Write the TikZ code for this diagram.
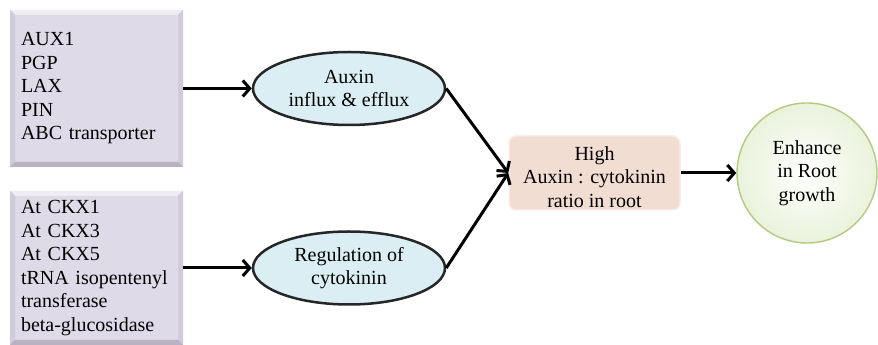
\documentclass[tikz,border=0pt]{standalone}
\usepackage{fontspec}
\setmainfont{Liberation Serif}
\usetikzlibrary{arrows.meta,shapes.geometric}

\definecolor{lavface}{HTML}{DFDAE7}
\definecolor{lavtop}{HTML}{EFECF4}
\definecolor{lavside}{HTML}{D0CADB}
\definecolor{lavbottom}{HTML}{B9B2C4}
\definecolor{auxblue}{HTML}{DAEEF3}
\definecolor{ratiopeach}{HTML}{F2DDD3}
\definecolor{ratiorim}{HTML}{F8EDE8}
\definecolor{rootgreen}{HTML}{B2CB80}
\definecolor{rootglow}{HTML}{EAF2DC}

\tikzset{
  genebox/.style={rectangle, fill=lavface, minimum width=173pt,
    text width=151pt, inner xsep=11pt, align=left,
    path picture={
      \fill[lavtop] (path picture bounding box.north west) -- (path picture bounding box.north east)
        -- ([shift={(-5pt,-5pt)}]path picture bounding box.north east)
        -- ([shift={(5pt,-5pt)}]path picture bounding box.north west) -- cycle;
      \fill[lavside] (path picture bounding box.north west) -- (path picture bounding box.south west)
        -- ([shift={(5pt,5pt)}]path picture bounding box.south west)
        -- ([shift={(5pt,-5pt)}]path picture bounding box.north west) -- cycle;
      \fill[lavside] (path picture bounding box.north east) -- (path picture bounding box.south east)
        -- ([shift={(-5pt,5pt)}]path picture bounding box.south east)
        -- ([shift={(-5pt,-5pt)}]path picture bounding box.north east) -- cycle;
      \fill[lavbottom] (path picture bounding box.south west) -- (path picture bounding box.south east)
        -- ([shift={(-5pt,5pt)}]path picture bounding box.south east)
        -- ([shift={(5pt,5pt)}]path picture bounding box.south west) -- cycle;
    }},
  process/.style={ellipse, draw=black!85, line width=2.5pt, fill=auxblue,
    minimum width=192pt, minimum height=73pt, inner sep=0pt, align=center},
  ratiobox/.style={rectangle, rounded corners=7pt, fill=ratiopeach, draw=ratiorim,
    line width=1.5pt, minimum width=171pt, minimum height=74pt, inner sep=0pt,
    text height=69pt, align=center},
  outcome/.style={circle, draw=rootgreen, line width=1.4pt, inner color=white,
    outer color=rootglow, minimum size=140pt, inner sep=0pt, align=center},
  link/.style={line width=3pt, -{Straight Barb[length=7pt,width=16pt]}}
}

\begin{document}
\begin{tikzpicture}[x=1pt,y=1pt,font=\fontsize{20pt}{23.5pt}\selectfont]
\useasboundingbox (0,0) rectangle (878,345);

% gene lists
\node[genebox, minimum height=157pt] (auxgenes) at (96.5,256.5)
  {AUX1\\PGP\\LAX\\PIN\\ABC transporter};
\node[genebox, minimum height=154pt] (ckgenes) at (96.5,77)
  {At CKX1\\At CKX3\\At CKX5\\tRNA isopentenyl\\transferase\\beta-glucosidase};

% what they act on
\node[process] (transport) at (349,256.5) {Auxin\\influx \& efflux};
\node[process] (cytoreg) at (349,77) {Regulation of\\cytokinin};

% result
\node[ratiobox] (ratio) at (594.5,172) {High\\Auxin : cytokinin\\ratio in root};
\node[outcome] (growth) at (807,172) {Enhance\\in Root\\growth};

\draw[link] (auxgenes.east) -- (transport.west);
\draw[link] (ckgenes.east) -- (cytoreg.west);
\draw[link] (transport.east) -- (ratio.west);
\draw[link] (cytoreg.east) -- (ratio.west);
\draw[link] (ratio.east) -- (growth.west);
\end{tikzpicture}
\end{document}
